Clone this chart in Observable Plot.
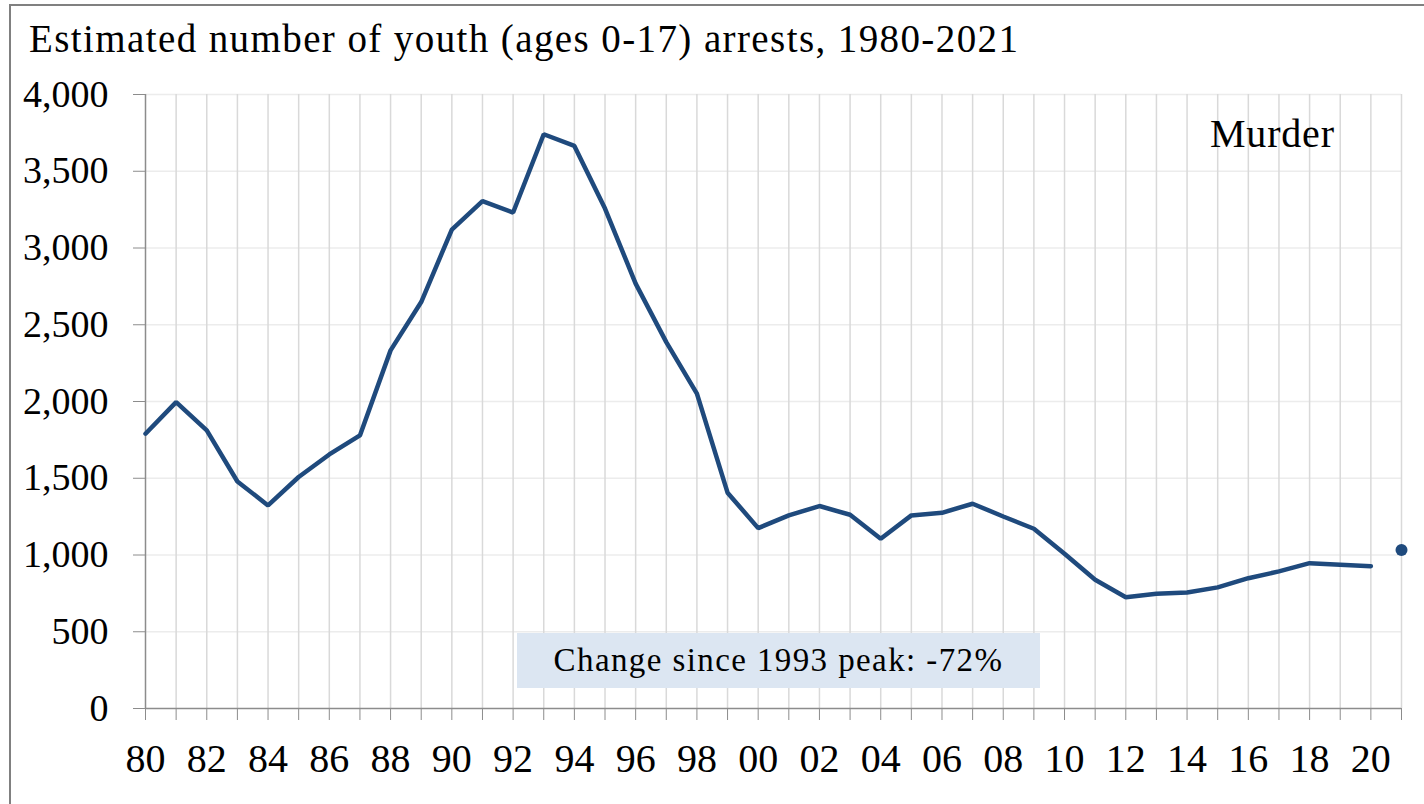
<!DOCTYPE html>
<html>
<head>
<meta charset="utf-8">
<script src="https://cdn.jsdelivr.net/npm/d3@7"></script>
<script src="https://cdn.jsdelivr.net/npm/@observablehq/plot@0.6"></script>
<style>
  html, body { margin: 0; padding: 0; background: #fff; }
  #wrap { position: relative; width: 1424px; height: 804px; overflow: hidden; font-family: "Liberation Serif", "DejaVu Serif", serif; color: #000; }
  #frame { position: absolute; left: 9px; top: 4px; width: 1500px; height: 900px; border-left: 2px solid #808080; border-top: 2px solid #808080; box-sizing: border-box; }
  #title { position: absolute; left: 29px; top: 19px; font-size: 39px; letter-spacing: 1.4px; line-height: 1; white-space: nowrap; }
  #chart { position: absolute; left: 0; top: 80px; }
  #label { position: absolute; left: 1210px; top: 114px; font-size: 40px; letter-spacing: 0.8px; line-height: 1; white-space: nowrap; }
  #note { position: absolute; left: 517px; top: 633px; width: 523px; height: 55px; background: #dce6f2; font-size: 33px; letter-spacing: 1.4px; line-height: 55px; text-align: center; white-space: nowrap; }
</style>
</head>
<body>
<div id="wrap">
  <div id="frame"></div>
  <div id="title">Estimated number of youth (ages 0-17) arrests, 1980-2021</div>
  <div id="chart"></div>
  <div id="label">Murder</div>
  <div id="note">Change since 1993 peak: -72%</div>
</div>
<script>
const years = [1980,1981,1982,1983,1984,1985,1986,1987,1988,1989,1990,1991,1992,1993,1994,1995,1996,1997,1998,1999,2000,2001,2002,2003,2004,2005,2006,2007,2008,2009,2010,2011,2012,2013,2014,2015,2016,2017,2018,2019,2020];
const arrests = [1790,1996,1812,1479,1323,1508,1655,1779,2333,2648,3120,3306,3231,3741,3665,3257,2768,2387,2051,1406,1175,1258,1319,1262,1106,1258,1275,1334,1251,1171,1008,839,725,748,756,789,849,893,947,937,927];
const latestYear = [2021];
const latestValue = [1032];
const yTicks = [0,500,1000,1500,2000,2500,3000,3500,4000];
const gridYears = d3.range(1981, 2022);
const allYears = d3.range(1980, 2022);

const series = years.map((y, i) => ({year: y, value: arrests[i]}));
const latest = latestYear.map((y, i) => ({year: y, value: latestValue[i]}));

const lineColor = "#1f4a7d";
const axisColor = "#8c8c8c";

const chart = Plot.plot({
  width: 1424,
  height: 724,
  marginTop: 14,
  marginBottom: 96,
  marginLeft: 145,
  marginRight: 23,
  style: { fontFamily: "'Liberation Serif', 'DejaVu Serif', serif", color: "#000", background: "transparent", overflow: "visible" },
  x: { domain: [1980, 2021] },
  y: { domain: [0, 4000] },
  marks: [
    Plot.ruleY(yTicks.filter(d => d > 0), { stroke: "#ececec", strokeWidth: 1.5 }),
    Plot.ruleX(gridYears, { stroke: "#d9d9d9", strokeWidth: 1.5 }),
    Plot.axisY({ ticks: yTicks, tickSize: 12, tickPadding: 25, tickFormat: d3.format(","), fontSize: 38, stroke: axisColor, label: null }),
    Plot.axisX({ ticks: allYears, tickSize: 12, tickPadding: 23, tickFormat: d => d % 2 === 0 ? String(d % 100).padStart(2, "0") : "", fontSize: 40, stroke: axisColor, label: null }),
    Plot.ruleX([1980], { stroke: axisColor, strokeWidth: 1.5 }),
    Plot.ruleY([0], { stroke: axisColor, strokeWidth: 1.5 }),
    Plot.lineY(series, { x: "year", y: "value", stroke: lineColor, strokeWidth: 4.5, strokeLinejoin: "miter" }),
    Plot.dot(latest, { x: "year", y: "value", fill: lineColor, r: 6 })
  ]
});
document.getElementById("chart").appendChild(chart);
</script>
</body>
</html>
